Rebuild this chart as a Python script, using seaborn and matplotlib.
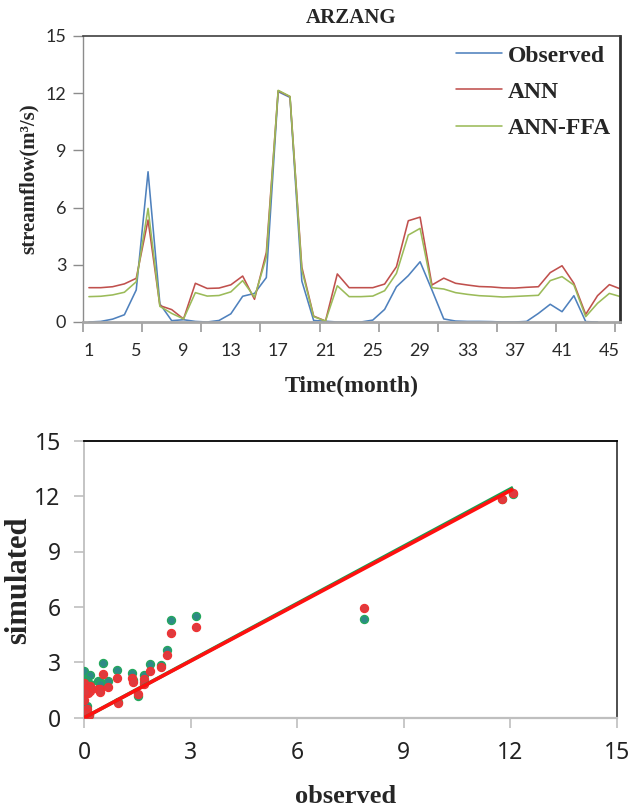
import numpy as np
import pandas as pd
import matplotlib
matplotlib.use("Agg")
import matplotlib.pyplot as plt
from matplotlib.lines import Line2D
from matplotlib import font_manager
import seaborn as sns

# ---------------- data ----------------
months = list(range(1, 47))
observed = [0.00, 0.03, 0.15, 0.38, 1.68, 7.88, 0.95, 0.07, 0.12, 0.03,
            0.00, 0.08, 0.43, 1.35, 1.50, 2.33, 12.08, 11.78, 2.15, 0.08,
            0.04, 0.00, 0.00, 0.00, 0.10, 0.66, 1.85, 2.43, 3.16, 1.68,
            0.16, 0.05, 0.03, 0.03, 0.02, 0.00, 0.00, 0.03, 0.45, 0.93,
            0.54, 1.38, 0.02, 0.00, np.nan, np.nan]
ann = [1.80, 1.80, 1.85, 2.00, 2.29, 5.35, 0.86, 0.65, 0.16, 2.03,
       1.76, 1.78, 1.95, 2.41, 1.19, 3.65, 12.13, 11.82, 2.88, 0.31,
       0.05, 2.52, 1.80, 1.80, 1.80, 1.99, 2.90, 5.31, 5.50, 1.94,
       2.30, 2.03, 1.94, 1.86, 1.84, 1.79, 1.78, 1.82, 1.85, 2.59,
       2.95, 2.03, 0.40, 1.38, 1.96, 1.72]
ann_ffa = [1.33, 1.35, 1.42, 1.56, 2.11, 5.96, 0.82, 0.45, 0.16, 1.54,
           1.36, 1.39, 1.58, 2.17, 1.30, 3.40, 12.15, 11.83, 2.73, 0.28,
           0.05, 1.90, 1.33, 1.33, 1.36, 1.64, 2.55, 4.56, 4.91, 1.80,
           1.73, 1.54, 1.45, 1.38, 1.35, 1.31, 1.34, 1.37, 1.40, 2.17,
           2.38, 1.94, 0.28, 0.98, 1.50, 1.32]
series_names = ["Observed", "ANN", "ANN-FFA"]
month_labels = [1, 5, 9, 13, 17, 21, 25, 29, 33, 37, 41, 45]
value_ticks = [0, 3, 6, 9, 12, 15]
title = "ARZANG"

# ---------------- style ----------------
sns.set_theme(style="white")
serif = ["Liberation Serif", "DejaVu Serif"]
plt.rcParams["font.family"] = serif
avail = {f.name for f in font_manager.fontManager.ttflist}
if "Liberation Sans Narrow" in avail:
    narrow_family, narrow_stretch = "Liberation Sans Narrow", "normal"
else:
    narrow_family, narrow_stretch = "Noto Sans", "condensed"
tick_font_top = "Lato" if "Lato" in avail else "DejaVu Sans"

W, H = 636, 808
fig = plt.figure(figsize=(W / 100, H / 100), dpi=100)
fig.patch.set_facecolor("white")

def box(l, t, r, b):
    return [l / W, 1 - b / H, (r - l) / W, (b - t) / H]

ax1 = fig.add_axes(box(83, 36, 620, 322))
ax2 = fig.add_axes(box(84.3, 440.7, 616.7, 717.7))

# ---------------- top: time series ----------------
df = pd.DataFrame({"Month": months, "Observed": observed, "ANN": ann, "ANN-FFA": ann_ffa})
long = df.melt("Month", var_name="Series", value_name="Flow")
palette = {"Observed": "#4F81BD", "ANN": "#C0504D", "ANN-FFA": "#9BBB59"}
sns.lineplot(data=long, x="Month", y="Flow", hue="Series", hue_order=series_names,
             palette=palette, ax=ax1, linewidth=1.15, legend=False, estimator=None)

ax1.set_xlim(0.5, 45.9)
ax1.set_ylim(0, 15)
ax1.set_xticks(month_labels)
ax1.set_xticks(np.arange(0.5, 46, 5), minor=True)
ax1.set_yticks(value_ticks)
ax1.tick_params(axis="x", which="major", length=0, pad=15, labelsize=13, labelcolor="#2a2a2a")
ax1.tick_params(axis="x", which="minor", length=7, width=1.2, color="#9a9a9a", direction="out", bottom=True)
ax1.tick_params(axis="y", which="major", length=7, width=1, color="#8c8c8c", direction="out", left=True,
                pad=5, labelsize=13, labelcolor="#2a2a2a")
for lab in ax1.get_xticklabels() + ax1.get_yticklabels():
    lab.set_fontfamily([tick_font_top, "DejaVu Sans"])
ax1.spines["top"].set_color("#404040"); ax1.spines["top"].set_linewidth(1.2)
ax1.spines["right"].set_color("#303030"); ax1.spines["right"].set_linewidth(2.0)
ax1.spines["left"].set_color("#8c8c8c"); ax1.spines["left"].set_linewidth(1.0)
ax1.spines["bottom"].set_color("#a6a6a6"); ax1.spines["bottom"].set_linewidth(2.0)
for s in ax1.spines.values():
    s.set_visible(True)

ax1.set_title(title, fontsize=15, fontweight="bold", pad=9.5)
ax1.set_xlabel("Time(month)", fontsize=17, fontweight="bold")
ax1.set_ylabel("streamflow(m\u00b3/s)", fontsize=15, fontweight="bold")
ax1.xaxis.label.set_va("center")
ax1.xaxis.set_label_coords(0.501, -0.224)
ax1.yaxis.label.set_va("center")
ax1.yaxis.set_label_coords(-0.1006, 0.5)

handles = [Line2D([], [], color=palette[n], lw=1.15) for n in series_names]
ax1.legend(handles, series_names, loc="upper left", bbox_to_anchor=(456 / W, 1 - 45 / H),
           bbox_transform=fig.transFigure, frameon=False, borderpad=0, borderaxespad=0,
           handlelength=1.95, handletextpad=0.25, labelspacing=0.62,
           prop={"family": serif, "weight": "bold", "size": 17})

# ---------------- bottom: scatter ----------------
models = ["ANN", "ANN-FFA"]
sc = pd.DataFrame({"observed": observed * 2,
                   "simulated": ann + ann_ffa,
                   "Model": ["ANN"] * len(ann) + ["ANN-FFA"] * len(ann_ffa)}).dropna()
face = {"ANN": "#2E8A86", "ANN-FFA": "#DF3A3E"}
edge = {"ANN": "#23A85C", "ANN-FFA": "#F03232"}
for m in models:
    sub = sc[sc["Model"] == m]
    sns.scatterplot(data=sub, x="observed", y="simulated", color=face[m], edgecolor=edge[m],
                    linewidth=0.9, s=34, ax=ax2, legend=False, zorder=3)

line_col = {"ANN": "#18A050", "ANN-FFA": "#FF1010"}
for m in models:
    sub = sc[sc["Model"] == m]
    slope = (sub["observed"] * sub["simulated"]).sum() / (sub["observed"] ** 2).sum()
    xs = np.array([0.0, sub["observed"].max()])
    ax2.plot(xs, slope * xs, color=line_col[m], lw=2.6, solid_capstyle="butt", zorder=4)

ax2.set_xlim(0, 15)
ax2.set_ylim(0, 15)
ax2.set_xticks(value_ticks)
ax2.set_yticks(value_ticks)
ax2.tick_params(axis="both", which="major", length=7, width=1.2, color="#bfbfbf", direction="out",
                bottom=True, left=True, labelsize=16.5, labelcolor="#222222")
ax2.tick_params(axis="x", pad=10)
ax2.tick_params(axis="y", pad=10)
for lab in ax2.get_xticklabels() + ax2.get_yticklabels():
    lab.set_fontfamily([narrow_family, "DejaVu Sans"])
    lab.set_fontstretch(narrow_stretch)
ax2.spines["top"].set_color("#000000"); ax2.spines["top"].set_linewidth(1.3)
ax2.spines["right"].set_color("#404040"); ax2.spines["right"].set_linewidth(1.3)
ax2.spines["left"].set_color("#bfbfbf"); ax2.spines["left"].set_linewidth(1.3)
ax2.spines["bottom"].set_color("#bfbfbf"); ax2.spines["bottom"].set_linewidth(1.6)
for s in ax2.spines.values():
    s.set_visible(True)

ax2.set_xlabel("observed", fontsize=19, fontweight="bold")
ax2.set_ylabel("simulated", fontsize=22, fontweight="bold")
ax2.xaxis.label.set_va("center")
ax2.xaxis.set_label_coords(0.4916, -0.283)
ax2.yaxis.label.set_va("center")
ax2.yaxis.set_label_coords(-0.1227, 0.497)

fig.savefig("out.png", dpi=100, facecolor="white")
